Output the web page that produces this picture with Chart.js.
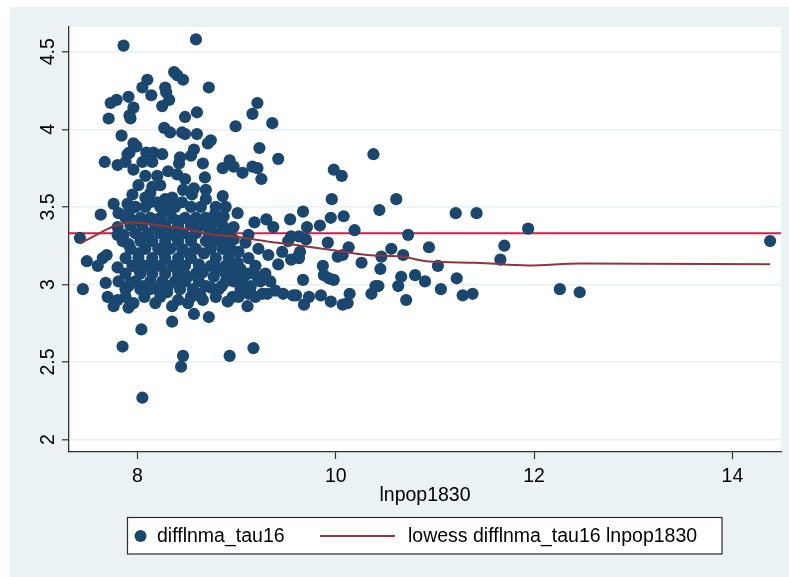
<!DOCTYPE html>
<html>
<head>
<meta charset="utf-8">
<script src="https://cdn.jsdelivr.net/npm/chart.js@4/dist/chart.umd.min.js"></script>
<style>
  html, body { margin: 0; padding: 0; background: #ffffff; }
  #wrap { width: 789px; height: 577px; }
</style>
</head>
<body>
<div id="wrap"><canvas id="c" width="789" height="577"></canvas></div>
<script>
// lnpop1830 (x) and difflnma_tau16 (y) for each observation
const popX = [
  7.86, 8.59, 8.37, 8.40, 8.46, 8.10, 8.05, 8.72, 8.28, 8.14, 7.91, 8.29, 8.32, 7.79, 7.73, 9.21,
  7.96, 8.25, 8.60, 7.92, 7.93, 8.48, 9.16, 7.71, 9.36, 8.99, 8.27, 8.33, 8.45, 8.48, 8.60, 7.84,
  8.74, 8.71, 9.23, 7.96, 7.99, 8.57, 7.92, 7.90, 8.09, 8.16, 8.25, 8.54, 9.42, 8.43, 7.67, 7.80,
  8.05, 7.88, 8.42, 8.66, 8.93, 8.97, 8.86, 9.06, 9.16, 9.21, 9.25, 8.31, 7.96, 8.08, 8.40, 8.68,
  8.48, 8.01, 8.23, 8.15, 7.95, 8.13, 8.46, 8.57, 8.69, 8.86, 8.35, 8.69, 8.20, 8.15, 8.55, 8.08,
  8.13, 8.28, 8.31, 8.45, 8.20, 10.38, 9.98, 10.06, 9.96, 10.61, 7.76, 7.90, 7.63, 7.81, 7.91, 8.30,
  8.78, 8.87, 9.01, 9.30, 9.37, 9.18, 8.97, 7.80, 7.80, 7.42, 9.67, 9.54, 9.84, 9.95, 10.08, 9.71,
  10.19, 10.44, 11.21, 11.42, 11.94, 10.73, 9.63, 9.70, 9.92, 10.13, 10.94, 10.56, 9.64, 9.63, 10.02, 10.07,
  10.46, 10.68, 10.26, 10.45, 11.03, 9.87, 9.88, 9.93, 9.98, 9.67, 10.66, 10.80, 10.90, 11.22, 11.06, 10.40,
  10.63, 10.36, 10.14, 9.85, 9.73, 9.60, 9.68, 9.95, 10.07, 10.12, 10.71, 11.28, 11.38, 11.70, 11.66, 12.26,
  12.46, 14.38, 10.43, 9.55, 7.49, 7.45, 7.65, 7.69, 7.60, 7.68, 7.70, 7.76, 7.91, 7.80, 7.88, 7.96,
  8.06, 8.07, 8.18, 8.20, 8.30, 8.35, 8.35, 8.41, 8.51, 8.57, 8.63, 8.66, 8.72, 8.74, 8.85, 8.91,
  8.96, 9.11, 9.12, 9.26, 9.31, 9.39, 9.47, 9.57, 8.04, 7.85, 8.46, 8.44, 8.93, 9.17, 8.05, 7.93,
  9.12, 9.22, 9.32, 9.42, 9.46, 9.52, 9.55, 9.62, 9.21, 9.07, 8.98, 9.01, 9.04, 9.14, 8.77, 8.82,
  8.62, 8.66, 8.51, 8.64, 9.02, 8.69, 8.97, 8.82, 9.09, 7.86, 7.91, 7.80,
  7.98, 8.08, 8.23, 8.38, 8.54, 8.64, 8.79, 8.89,
  7.88, 8.03, 8.13, 8.23, 8.35, 8.48, 8.59, 8.69,
  7.93, 8.05, 8.18, 8.28, 8.41, 8.54, 8.64, 8.74, 8.86,
  7.98, 8.11, 8.23, 8.35, 8.46, 8.59, 8.72, 8.92,
  7.85, 8.03, 8.15, 8.28, 8.41, 8.54, 8.79, 8.89,
  7.93, 8.08, 8.21, 8.33, 8.45, 8.59, 8.74, 8.86, 8.94,
  7.88, 8.01, 8.15, 8.28, 8.41, 8.54, 8.79, 8.92, 9.12,
  7.95, 8.08, 8.23, 8.35, 8.48, 8.74, 8.89, 8.96, 9.19,
  7.88, 8.03, 8.15, 8.28, 8.41, 8.59, 8.89, 9.12, 9.29,
  7.81, 7.98, 8.13, 8.25, 8.38, 8.48, 8.62, 8.89, 8.97, 9.24, 9.34,
  8.03, 8.13, 8.43, 8.56, 8.82, 9.04,
  7.88, 8.23, 8.54, 8.79, 9.02, 9.19,
  7.96, 8.18, 8.41, 8.79,
  8.05, 8.29, 8.54, 8.82,
  8.01, 8.27, 8.52, 8.67,
  8.01, 8.15, 8.41, 8.62, 9.04,
  7.91, 8.31, 8.69, 9.14
];
const diffY = [
  4.54, 4.58, 4.37, 4.35, 4.32, 4.32, 4.27, 4.27, 4.27, 4.22, 4.21, 4.24, 4.19, 4.19, 4.17, 4.17,
  4.14, 4.15, 4.11, 4.09, 4.07, 4.08, 4.10, 4.07, 4.04, 4.02, 4.01, 3.98, 3.98, 3.97, 3.97, 3.96,
  3.93, 3.91, 3.88, 3.91, 3.89, 3.87, 3.85, 3.84, 3.85, 3.85, 3.84, 3.83, 3.81, 3.82, 3.79, 3.77,
  3.79, 3.79, 3.78, 3.78, 3.80, 3.76, 3.75, 3.72, 3.76, 3.75, 3.68, 3.73, 3.74, 3.70, 3.71, 3.69,
  3.68, 3.64, 3.64, 3.63, 3.58, 3.59, 3.61, 3.62, 3.61, 3.57, 3.56, 3.55, 3.70, 3.79, 3.58, 3.56,
  3.53, 3.55, 3.50, 3.53, 3.53, 3.84, 3.74, 3.70, 3.55, 3.55, 3.52, 3.52, 3.45, 3.46, 3.46, 3.48,
  3.45, 3.44, 3.46, 3.42, 3.37, 3.40, 3.37, 3.37, 3.32, 3.30, 3.47, 3.42, 3.38, 3.43, 3.44, 3.37,
  3.35, 3.48, 3.46, 3.46, 3.36, 3.32, 3.31, 3.29, 3.27, 3.24, 3.24, 3.23, 3.21, 3.17, 3.18, 3.19,
  3.18, 3.19, 3.14, 3.10, 3.12, 3.12, 3.06, 3.04, 3.03, 3.03, 3.05, 3.06, 3.02, 3.04, 2.97, 2.99,
  2.99, 2.94, 2.94, 2.93, 2.92, 2.93, 2.87, 2.89, 2.87, 2.88, 2.90, 2.93, 2.94, 3.25, 3.16, 2.97,
  2.95, 3.28, 2.99, 3.31, 3.15, 2.97, 3.17, 3.19, 3.12, 3.01, 2.92, 2.86, 2.85, 2.90, 2.97, 2.88,
  2.99, 2.92, 2.88, 2.97, 2.95, 2.86, 2.76, 2.90, 2.88, 2.81, 2.94, 2.90, 2.79, 2.98, 2.99, 2.89,
  2.92, 2.86, 2.94, 2.94, 2.94, 2.96, 2.94, 2.93, 2.71, 2.60, 2.54, 2.47, 2.54, 2.59, 2.27, 3.01,
  3.32, 3.23, 3.19, 3.13, 3.21, 3.28, 3.16, 3.18, 3.05, 3.05, 3.06, 3.14, 3.01, 2.98, 3.05, 3.10,
  3.13, 3.08, 3.05, 2.92, 3.21, 3.28, 3.29, 3.33, 3.27, 3.32, 3.26, 3.11,
  3.50, 3.50, 3.50, 3.50, 3.50, 3.50, 3.50, 3.50,
  3.43, 3.43, 3.43, 3.43, 3.43, 3.43, 3.43, 3.43,
  3.38, 3.38, 3.38, 3.38, 3.38, 3.38, 3.38, 3.38, 3.38,
  3.33, 3.33, 3.33, 3.33, 3.33, 3.33, 3.33, 3.33,
  3.28, 3.28, 3.28, 3.28, 3.28, 3.28, 3.28, 3.28,
  3.23, 3.23, 3.23, 3.23, 3.23, 3.23, 3.23, 3.23, 3.23,
  3.17, 3.17, 3.17, 3.17, 3.17, 3.17, 3.17, 3.17, 3.17,
  3.12, 3.12, 3.12, 3.12, 3.12, 3.12, 3.12, 3.12, 3.12,
  3.07, 3.07, 3.07, 3.07, 3.07, 3.07, 3.07, 3.07, 3.07,
  3.02, 3.02, 3.02, 3.02, 3.02, 3.02, 3.02, 3.02, 3.02, 3.02, 3.02,
  2.97, 2.97, 2.97, 2.97, 2.97, 2.97,
  2.92, 2.92, 2.92, 2.92, 2.92, 2.92,
  3.41, 3.41, 3.41, 3.41,
  3.30, 3.30, 3.30, 3.30,
  3.20, 3.20, 3.20, 3.20,
  3.10, 3.10, 3.10, 3.10, 3.10,
  2.99, 2.99, 2.99, 2.99
];

// lowess smooth of difflnma_tau16 on lnpop1830
const lowessX = [7.42, 7.63, 7.78, 7.94, 8.23, 8.51, 8.77, 8.97, 9.31, 9.65, 9.98, 10.32, 10.66, 10.94, 11.41, 11.94, 12.47, 14.38];
const lowessY = [3.264, 3.335, 3.38, 3.40, 3.38, 3.354, 3.32, 3.31, 3.277, 3.25, 3.22, 3.19, 3.18, 3.148, 3.14, 3.122, 3.135, 3.13];

// reference line and axis settings
const refLineY = 3.33;
const xTicks = [8, 10, 12, 14];
const yTicks = [2, 2.5, 3, 3.5, 4, 4.5];
const xRange = [7.31, 14.49];
const yRange = [1.92, 4.66];

const labelScatter = 'difflnma_tau16';
const labelLowess = 'lowess difflnma_tau16 lnpop1830';
const xTitle = 'lnpop1830';

const FONT = '"Liberation Sans", Arial, sans-serif';
const NAVY = '#1a476f';
const MAROON = '#90353b';
const CRIMSON = '#d81b45';

const scatterData = popX.map((x, i) => ({ x: x, y: diffY[i] }));
const lowessData = lowessX.map((x, i) => ({ x: x, y: lowessY[i] }));
const refData = [{ x: xRange[0], y: refLineY }, { x: xRange[1], y: refLineY }];

// page background, outer band and white plot region
const backdrop = {
  id: 'backdrop',
  beforeDraw(chart) {
    const { ctx, chartArea: a } = chart;
    ctx.save();
    ctx.fillStyle = '#ffffff';
    ctx.fillRect(0, 0, chart.width, chart.height);
    ctx.fillStyle = '#eaf2f3';
    ctx.fillRect(10, 7, chart.width - 10, chart.height - 7);
    ctx.fillStyle = '#ffffff';
    ctx.fillRect(a.left, a.top, a.right - a.left, a.bottom - a.top);
    ctx.restore();
  }
};

// vertical (rotated) y tick labels
const yLabels = {
  id: 'yLabels',
  afterDraw(chart) {
    const { ctx } = chart;
    const ys = chart.scales.y;
    ctx.save();
    ctx.fillStyle = '#000';
    ctx.font = '19.5px ' + FONT;
    ctx.textAlign = 'center';
    ctx.textBaseline = 'alphabetic';
    yTicks.forEach(v => {
      const py = ys.getPixelForValue(v);
      ctx.save();
      ctx.translate(53.5, py);
      ctx.rotate(-Math.PI / 2);
      ctx.fillText(String(v), 0, 0);
      ctx.restore();
    });
    ctx.restore();
  }
};

// boxed legend below the axis title
const boxLegend = {
  id: 'boxLegend',
  afterDraw(chart) {
    const { ctx } = chart;
    ctx.save();
    ctx.fillStyle = '#ffffff';
    ctx.fillRect(127.5, 517.5, 594.5, 36.5);
    ctx.strokeStyle = '#2b2b2b';
    ctx.lineWidth = 1.2;
    ctx.strokeRect(127.5, 517.5, 594.5, 36.5);
    const cy = 536;
    ctx.fillStyle = NAVY;
    ctx.beginPath();
    ctx.arc(140.5, cy, 6, 0, Math.PI * 2);
    ctx.fill();
    ctx.strokeStyle = MAROON;
    ctx.lineWidth = 2;
    ctx.beginPath();
    ctx.moveTo(320, cy);
    ctx.lineTo(395, cy);
    ctx.stroke();
    ctx.fillStyle = '#000';
    ctx.font = '19.5px ' + FONT;
    ctx.textAlign = 'left';
    ctx.textBaseline = 'middle';
    ctx.fillText(labelScatter, 157, cy + 1);
    ctx.fillText(labelLowess, 408, cy + 1);
    ctx.restore();
  }
};

new Chart(document.getElementById('c'), {
  data: {
    datasets: [
      {
        type: 'scatter',
        label: labelScatter,
        data: scatterData,
        backgroundColor: NAVY,
        borderWidth: 0,
        pointRadius: 6.1,
        pointHoverRadius: 6.1,
        order: 2
      },
      {
        type: 'line',
        label: labelLowess,
        data: lowessData,
        borderColor: MAROON,
        borderWidth: 2,
        pointRadius: 0,
        fill: false,
        cubicInterpolationMode: 'monotone',
        order: 1
      },
      {
        type: 'line',
        label: 'mean',
        data: refData,
        borderColor: CRIMSON,
        borderWidth: 2,
        pointRadius: 0,
        fill: false,
        order: 3
      }
    ]
  },
  options: {
    responsive: false,
    animation: false,
    devicePixelRatio: 1,
    layout: { padding: { left: 0, top: 27, right: 8, bottom: 70 } },
    plugins: { legend: { display: false }, tooltip: { enabled: false } },
    scales: {
      x: {
        type: 'linear',
        position: 'bottom',
        min: xRange[0],
        max: xRange[1],
        afterBuildTicks(scale) { scale.ticks = xTicks.map(v => ({ value: v })); },
        afterFit(scale) { scale.height = 55; },
        ticks: {
          font: { family: FONT, size: 19.5 },
          color: '#000',
          padding: 6,
          maxRotation: 0,
          callback: v => String(v)
        },
        grid: {
          drawOnChartArea: false,
          drawTicks: true,
          tickLength: 7,
          tickColor: '#333',
          tickWidth: 1.2
        },
        border: { display: true, color: '#333', width: 1.3 },
        title: {
          display: true,
          text: xTitle,
          color: '#000',
          font: { family: FONT, size: 19.5 },
          padding: { top: 0, bottom: 0 }
        }
      },
      y: {
        type: 'linear',
        position: 'left',
        min: yRange[0],
        max: yRange[1],
        afterBuildTicks(scale) { scale.ticks = yTicks.map(v => ({ value: v })); },
        afterFit(scale) { scale.width = 69; },
        ticks: { display: false },
        grid: {
          color: '#e6eff1',
          lineWidth: 1.6,
          drawTicks: true,
          tickLength: 7,
          tickColor: '#333',
          tickWidth: 1.2
        },
        border: { display: true, color: '#333', width: 1.3 }
      }
    }
  },
  plugins: [backdrop, yLabels, boxLegend]
});
</script>
</body>
</html>
